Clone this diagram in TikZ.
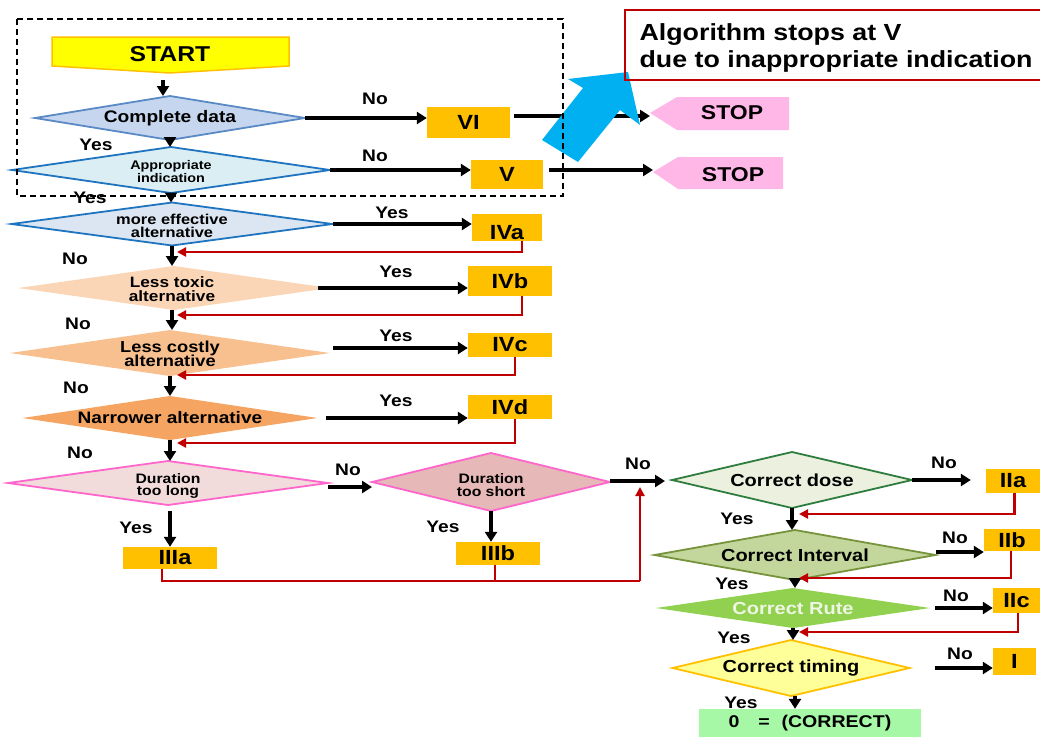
\documentclass[tikz,border=0pt]{standalone}
\usepackage{fontspec}
\setmainfont{Liberation Sans}[FakeStretch=1.15]
\usetikzlibrary{shapes.geometric,arrows.meta}
\newcommand\myfs[1]{\fontsize{#1}{#1}\selectfont}
\definecolor{obox}{HTML}{FFC000}
\definecolor{startfill}{HTML}{FFFF00}
\definecolor{cdfill}{HTML}{C6D6EE}
\definecolor{cddraw}{HTML}{5A8AC6}
\definecolor{aifill}{HTML}{DAEEF3}
\definecolor{bluedraw}{HTML}{1F74C0}
\definecolor{mefill}{HTML}{DCE5F2}
\definecolor{ltfill}{HTML}{FBD6B6}
\definecolor{lcfill}{HTML}{F9C08F}
\definecolor{nafill}{HTML}{F5A462}
\definecolor{dlfill}{HTML}{F2DCDB}
\definecolor{dsfill}{HTML}{E6B8B7}
\definecolor{pinkdraw}{HTML}{FF66CC}
\definecolor{cdosefill}{HTML}{EBF1DE}
\definecolor{cdosedraw}{HTML}{2E7D3E}
\definecolor{cifill}{HTML}{C3D69B}
\definecolor{cidraw}{HTML}{77933C}
\definecolor{crfill}{HTML}{92D050}
\definecolor{crtext}{HTML}{EEF6E4}
\definecolor{ctfill}{HTML}{FFFF99}
\definecolor{zerofill}{HTML}{A6F8A6}
\definecolor{stopfill}{HTML}{FFB7E7}
\definecolor{arrcyan}{HTML}{00B0F0}
\definecolor{dred}{HTML}{C00000}
\begin{document}
\begin{tikzpicture}[x=1pt,y=-1pt,font=\bfseries,
  dia/.style n args={2}{diamond,minimum width=#1,minimum height=#2,inner sep=0pt,outer sep=0pt},
  box/.style={fill=obox,inner sep=0pt,font=\bfseries\myfs{20.5}},
  lbl/.style={font=\bfseries\myfs{16.7}},
  dtext/.style={align=center,inner sep=0pt},
  blk/.style={line width=3.4pt,-{Triangle[length=10pt,width=12pt]}},
  redln/.style={dred,line width=2.8pt},
  redarr/.style={dred,line width=2.8pt,-{Triangle[length=9pt,width=9pt]}}]
\useasboundingbox (0,0) rectangle (1040,737);

% START
\fill[startfill,draw=obox,line width=1.5pt] (52,37) -- (289,37) -- (289,66) -- (170,73) -- (52,66) -- cycle;
\node[font=\bfseries\myfs{21.5}] (start) at (170,54) {START};
\coordinate (sb) at (163,80);

% Diamonds
\node[dia={270}{44},fill=cdfill,draw=cddraw,line width=1.8pt] (cd) at (170,118) {};
\node[dtext,font=\bfseries\myfs{16.7}] (cdt) at (cd) {Complete data};
\node[dia={318}{46},fill=aifill,draw=bluedraw,line width=1.8pt] (ai) at (171,170) {};
\node[dtext,font=\bfseries\myfs{12.5}] (ait) at (171,171.5) {Appropriate\\[0pt]indication};
\node[dia={321}{43},fill=mefill,draw=bluedraw,line width=1.8pt] (me) at (172,224) {};
\node[dtext,font=\bfseries\myfs{14.3}] (met) at (172,226) {more effective\\[-1pt]alternative};
\node[dia={312}{44},fill=ltfill] (lt) at (174,288) {};
\node[dtext,font=\bfseries\myfs{15}] (ltt) at (172,289.5) {Less toxic\\[-1pt]alternative};
\node[dia={320}{46},fill=lcfill] (lc) at (170,353) {};
\node[dtext,font=\bfseries\myfs{15.9}] (lct) at (170,354) {Less costly\\[-2pt]alternative};
\node[dia={295}{44},fill=nafill] (na) at (170,418) {};
\node[dtext,font=\bfseries\myfs{16.6}] (nat) at (na) {Narrower alternative};
\node[dia={320}{44},fill=dlfill,draw=pinkdraw,line width=1.8pt] (dl) at (168,483) {};
\node[dtext,font=\bfseries\myfs{13.7}] (dlt) at (168,486) {Duration\\[-1pt]too long};
\node[dia={238}{58},fill=dsfill,draw=pinkdraw,line width=1.8pt] (ds) at (491,482) {};
\node[dtext,font=\bfseries\myfs{13.7}] (dst) at (491,485) {Duration\\[-1pt]too short};
\node[dia={240}{56},fill=cdosefill,draw=cdosedraw,line width=1.8pt] (cdose) at (792,480) {};
\node[dtext,font=\bfseries\myfs{17.4}] (cdoset) at (cdose) {Correct dose};
\node[dia={281}{50},fill=cifill,draw=cidraw,line width=1.8pt] (ci) at (795,555) {};
\node[dtext,font=\bfseries\myfs{17.4}] (cit) at (ci) {Correct Interval};
\node[dia={274}{40},fill=crfill] (cr) at (793,608) {};
\node[dtext,font=\bfseries\myfs{17.4},text=crtext] (crt) at (cr) {Correct Rute};
\node[dia={237}{56},fill=ctfill,draw=obox,line width=1.8pt] (ct) at (791,668) {};
\node[dtext,font=\bfseries\myfs{17.4}] (ctt) at (ct) {Correct timing};

% Boxes
\node[box,minimum width=83,minimum height=31] (vi) at (468.5,122.5) {VI};
\node[box,minimum width=72,minimum height=29] (v) at (507,174.5) {V};
\node[box,minimum width=70,minimum height=27,text height=23pt,text depth=0pt] (iva) at (507,227.5) {IVa};
\node[box,minimum width=84,minimum height=30] (ivb) at (510,281) {IVb};
\node[box,minimum width=84,minimum height=24] (ivc) at (510,345) {IVc};
\node[box,minimum width=84,minimum height=24] (ivd) at (510,407) {IVd};
\node[box,minimum width=94,minimum height=22] (iiia) at (170,558) {\hspace{10pt}IIIa};
\node[box,minimum width=84,minimum height=23] (iiib) at (498,553.5) {IIIb};
\node[box,minimum width=54,minimum height=24] (iia) at (1013,481) {IIa};
\node[box,minimum width=56,minimum height=22] (iib) at (1012,540) {IIb};
\node[box,minimum width=47,minimum height=25] (iic) at (1016.5,600.5) {IIc};
\node[box,minimum width=43,minimum height=27] (i) at (1014.5,661.5) {I};
\node[fill=zerofill,inner sep=0pt,minimum width=222,minimum height=28,font=\bfseries\myfs{17}] (zero) at (810,723) {0\hspace{1.1em}=\hspace{0.7em}(CORRECT)};

% STOP shapes
\fill[stopfill] (650,113) -- (677,97) -- (789,97) -- (789,130) -- (677,130) -- cycle;
\node[font=\bfseries\myfs{20}] (stop1) at (732,113) {STOP};
\coordinate (s1tip) at (650,116);
\fill[stopfill] (653,172) -- (678,157) -- (783,157) -- (783,189) -- (678,189) -- cycle;
\node[font=\bfseries\myfs{20}] (stop2) at (733,175) {STOP};
\coordinate (s2tip) at (653,170);

% black arrows
\draw[blk] (sb) -- (sb |- cd.north);
\draw[blk] (cd.east) -- (cd.east -| vi.west);
\draw[blk] ([xshift=4pt]vi.east |- s1tip) -- (s1tip);
\draw[blk] (cd.south) -- (cd.south |- ai.north);
\draw[blk] (ai.east) -- (ai.east -| v.west);
\draw[blk] ([xshift=6pt]v.east |- s2tip) -- (s2tip);
\draw[blk] (ai.south) -- (ai.south |- me.north);
\draw[blk] (me.east) -- (me.east -| iva.west);
\draw[blk] (me.south) -- (me.south |- lt.north);
\draw[blk] ([xshift=-12pt]lt.east) -- (lt.east -| ivb.west);
\draw[blk] ([xshift=-2pt]lt.south) -- ([xshift=-2pt]lt.south |- lc.north);
\draw[blk] ([xshift=3pt,yshift=5pt]lc.east) -- ([yshift=5pt]lc.east -| ivc.west);
\draw[blk] (lc.south) -- (lc.south |- na.north);
\draw[blk] ([xshift=8pt]na.east) -- (na.east -| ivd.west);
\draw[blk] (na.south) -- (na.south |- dl.north);
\draw[blk] ([yshift=-4pt]dl.east) -- ([yshift=-4pt]dl.east -| ds.west);
\draw[blk] ([xshift=2pt,yshift=-6pt]dl.south) -- ([xshift=2pt]dl.south |- iiia.north);
\draw[blk] (ds.south) -- (ds.south |- iiib.north);
\draw[blk] ([yshift=1pt]ds.east) -- ([xshift=-7pt,yshift=1pt]cdose.west |- ds.east);
\draw[blk] (cdose.east) -- ([xshift=-15pt]iia.west |- cdose.east);
\draw[blk] (cdose.south) -- (cdose.south |- ci.north);
\draw[blk] ([yshift=3pt]ci.east) -- ([yshift=3pt]ci.east -| iib.west);
\draw[blk] (ci.south) -- (ci.south |- cr.north);
\draw[blk] ([xshift=5pt]cr.east) -- (cr.east -| iic.west);
\draw[blk] (cr.south) -- (cr.south |- ct.north);
\draw[blk] ([xshift=25pt]ct.east) -- (ct.east -| i.west);
\draw[blk] ([xshift=4pt]ct.south) -- ([xshift=4pt]ct.south |- zero.north);

% red return lines
\coordinate (j1) at (177,252);
\coordinate (j2) at (177,315);
\coordinate (j3) at (177,375);
\coordinate (j4) at (177,443);
\draw[redarr] ([xshift=15pt]iva.south) |- (j1);
\draw[redarr] ([xshift=12pt]ivb.south) |- (j2);
\draw[redarr] ([xshift=5pt]ivc.south) |- (j3);
\draw[redarr] ([xshift=5pt]ivd.south) |- (j4);
\coordinate (j5) at (640,581);
\coordinate (j6) at (640,487);
\draw[redln] ([xshift=-8pt]iiia.south) |- (j5);
\draw[redln] ([xshift=-3pt]iiib.south) -- ([xshift=-3pt]iiib.south |- j5);
\draw[redarr] (j5) -- (j6);
\coordinate (k1) at (799,514);
\coordinate (k2) at (799,578);
\coordinate (k3) at (799,632);
\draw[redarr] ([xshift=1.5pt]iia.south) |- (k1);
\draw[redarr] ([xshift=-1pt]iib.south) |- (k2);
\draw[redarr] ([xshift=1.5pt]iic.south) |- (k3);

% labels
\node[lbl] (l1) at (375,99) {No};
\node[lbl] (l2) at (375,156) {No};
\node[lbl] (l3) at (96,145) {Yes};
\node[lbl] (l4) at (90,198) {Yes};
\node[lbl] (l5) at (392,213) {Yes};
\node[lbl] (l6) at (75,259) {No};
\node[lbl] (l7) at (396,272) {Yes};
\node[lbl] (l8) at (78,324) {No};
\node[lbl] (l9) at (396,336) {Yes};
\node[lbl] (l10) at (76,388) {No};
\node[lbl] (l11) at (396,401) {Yes};
\node[lbl] (l12) at (80,453) {No};
\node[lbl] (l13) at (348,470) {No};
\node[lbl] (l14) at (136,528) {Yes};
\node[lbl] (l15) at (443,527) {Yes};
\node[lbl] (l16) at (638,464) {No};
\node[lbl] (l17) at (944,463) {No};
\node[lbl] (l18) at (737,519) {Yes};
\node[lbl] (l19) at (955,538) {No};
\node[lbl] (l20) at (732,584) {Yes};
\node[lbl] (l21) at (956,596) {No};
\node[lbl] (l22) at (734,638) {Yes};
\node[lbl] (l23) at (960,654) {No};
\node[lbl] (l24) at (741,703) {Yes};

% big cyan arrow
\fill[arrcyan] (542,140) -- (583,88) -- (568,79) -- (628,72) -- (640,125) -- (620,110) -- (578,162) -- cycle;

% dashed frame
\draw[dashed,dash pattern=on 6pt off 4pt,line width=1.4pt] (17,19) rectangle (563,196);

% annotation
\draw[dred,line width=2pt] (625,10) rectangle (1043,80);
\node[anchor=west,align=left,font=\bfseries\myfs{23.3}] (note) at (636,48) {Algorithm stops at V\\[3pt]due to inappropriate indication};
\end{tikzpicture}
\end{document}
